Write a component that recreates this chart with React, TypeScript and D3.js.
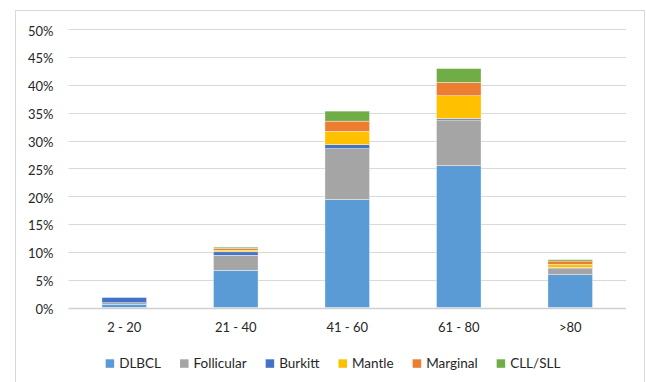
import React, { useEffect, useRef } from "react";
import * as d3 from "d3";

const categories = ["2 - 20", "21 - 40", "41 - 60", "61 - 80", ">80"];
const seriesNames = ["DLBCL", "Follicular", "Burkitt", "Mantle", "Marginal", "CLL/SLL"];
const DLBCL = [0.6, 6.7, 19.4, 25.5, 5.9];
const Follicular = [0.25, 2.7, 9.15, 8.2, 1.2];
const Burkitt = [0.95, 0.6, 0.7, 0.25, 0.1];
const Mantle = [0, 0.3, 2.4, 4.1, 0.55];
const Marginal = [0, 0.3, 1.85, 2.4, 0.6];
const CLLSLL = [0, 0.25, 1.8, 2.5, 0.25];
const seriesColors = ["#5B9BD5", "#A5A5A5", "#4472C4", "#FFC000", "#ED7D31", "#70AD47"];
const yTicks = [0, 5, 10, 15, 20, 25, 30, 35, 40, 45, 50];

const W = 646;
const H = 382;
const FONT = "Lato, 'Open Sans', sans-serif";
const TEXT = "#262626";

export default function App() {
  const ref = useRef<SVGSVGElement | null>(null);

  useEffect(() => {
    const svg = d3.select(ref.current);
    svg.selectAll("*").remove();

    const margin = { left: 68.5, right: 20, top: 29.3, bottom: 74.5 };
    const x = d3
      .scaleBand<string>()
      .domain(categories)
      .range([margin.left, W - margin.right])
      .paddingInner(0.6)
      .paddingOuter(0.3);
    const y = d3.scaleLinear().domain([0, 50]).range([H - margin.bottom, margin.top]);

    // outer frame
    svg
      .append("rect")
      .attr("x", 15.5)
      .attr("y", 10.5)
      .attr("width", 629)
      .attr("height", 380)
      .attr("fill", "#fff")
      .attr("stroke", "#d9d9d9");

    // gridlines
    svg
      .append("g")
      .selectAll("line")
      .data(yTicks)
      .join("line")
      .attr("x1", margin.left)
      .attr("x2", W - margin.right)
      .attr("y1", (d) => Math.round(y(d)) + 0.5)
      .attr("y2", (d) => Math.round(y(d)) + 0.5)
      .attr("stroke", (d) => (d === 0 ? "#d0d0d0" : "#d9d9d9"))
      .attr("stroke-width", (d) => (d === 0 ? 1.5 : 1));

    // y labels
    svg
      .append("g")
      .selectAll("text")
      .data(yTicks)
      .join("text")
      .attr("x", 53.5)
      .attr("y", (d) => y(d) + 6.3)
      .attr("text-anchor", "end")
      .attr("font-family", FONT)
      .attr("font-size", 13)
      .attr("fill", TEXT)
      .text((d) => `${d}%`);

    // stacked bars
    const rows = categories.map((c, i) => ({
      cat: c,
      DLBCL: DLBCL[i],
      Follicular: Follicular[i],
      Burkitt: Burkitt[i],
      Mantle: Mantle[i],
      Marginal: Marginal[i],
      "CLL/SLL": CLLSLL[i],
    }));
    const stack = d3.stack<any>().keys(seriesNames)(rows);
    const g = svg.append("g");
    stack.forEach((layer, li) => {
      g.append("g")
        .attr("fill", seriesColors[li])
        .selectAll("rect")
        .data(layer.filter((d) => d[1] - d[0] > 0))
        .join("rect")
        .attr("x", (d) => x(d.data.cat) as number)
        .attr("width", x.bandwidth())
        .attr("y", (d) => y(d[1]))
        .attr("height", (d) => y(d[0]) - y(d[1]))
        .attr("stroke", "#ffffff")
        .attr("stroke-width", 0.4);
    });

    // x labels
    svg
      .append("g")
      .selectAll("text")
      .data(categories)
      .join("text")
      .attr("x", (d) => (x(d) as number) + x.bandwidth() / 2)
      .attr("y", 331.5)
      .attr("text-anchor", "middle")
      .attr("font-family", FONT)
      .attr("font-size", 13)
      .attr("fill", TEXT)
      .text((d) => d);

    // legend
    const lg = svg.append("g");
    const items = seriesNames.map((name, i) => {
      const it = lg.append("g");
      it.append("rect")
        .attr("x", 0)
        .attr("y", 359.3)
        .attr("width", 8.5)
        .attr("height", 8.5)
        .attr("fill", seriesColors[i]);
      const t = it
        .append("text")
        .attr("x", 13.5)
        .attr("y", 368.3)
        .attr("font-family", FONT)
        .attr("font-size", 13.5)
        .attr("fill", TEXT)
        .text(name);
      const w = (t.node() as SVGTextElement).getComputedTextLength();
      return { it, w: 13.5 + w };
    });
    const gap = 19;
    const total = d3.sum(items, (d) => d.w) + gap * (items.length - 1);
    let cx = 333 - total / 2;
    items.forEach((d) => {
      d.it.attr("transform", `translate(${cx},0)`);
      cx += d.w + gap;
    });
  }, []);

  return (
    <svg
      ref={ref}
      width={W}
      height={H}
      style={{ position: "fixed", left: 0, top: 0, background: "#fff" }}
    />
  );
}
